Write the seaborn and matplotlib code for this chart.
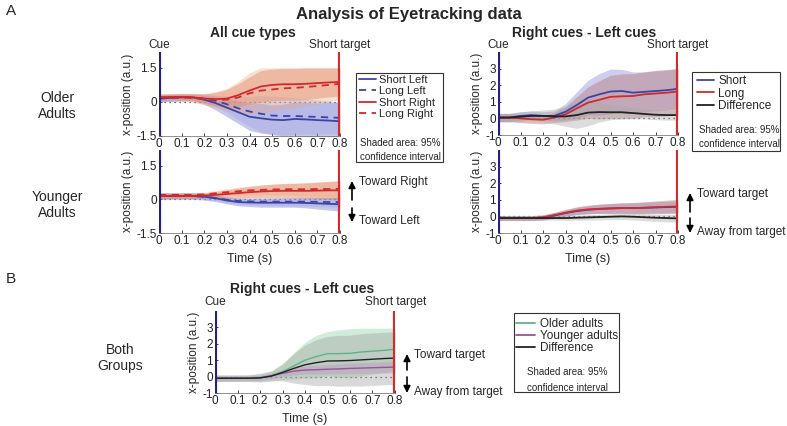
import numpy as np
import pandas as pd
import seaborn as sns
import matplotlib
matplotlib.use("Agg")
import matplotlib.pyplot as plt
from matplotlib.patches import Rectangle, FancyArrowPatch
from matplotlib.lines import Line2D

# ---------------- data ----------------
time = [0.0, 0.05, 0.1, 0.15, 0.2, 0.25, 0.3, 0.35, 0.4, 0.45, 0.5, 0.55, 0.6, 0.65, 0.7, 0.75, 0.8]
x_ticks = [0, 0.1, 0.2, 0.3, 0.4, 0.5, 0.6, 0.7, 0.8]
x_tick_labels = ["0", "0.1", "0.2", "0.3", "0.4", "0.5", "0.6", "0.7", "0.8"]
y_ticks_all = [-1.5, 0, 1.5]
y_ticks_diff = [-1, 0, 1, 2, 3]

# Older adults, all cue types
older_short_left = [0.15, 0.18, 0.2, 0.2, 0.1, -0.05, -0.25, -0.45, -0.65, -0.72, -0.78, -0.8, -0.75, -0.77, -0.8, -0.82, -0.85]
older_long_left = [0.15, 0.18, 0.2, 0.2, 0.15, 0.05, -0.1, -0.28, -0.42, -0.52, -0.6, -0.62, -0.62, -0.64, -0.66, -0.68, -0.7]
older_short_right = [0.2, 0.22, 0.22, 0.2, 0.15, 0.12, 0.15, 0.3, 0.5, 0.68, 0.75, 0.78, 0.78, 0.8, 0.83, 0.86, 0.88]
older_long_right = [0.2, 0.2, 0.2, 0.18, 0.12, 0.1, 0.1, 0.2, 0.38, 0.5, 0.55, 0.6, 0.62, 0.66, 0.7, 0.75, 0.8]
older_sl_ci = [0.15, 0.15, 0.15, 0.15, 0.2, 0.3, 0.4, 0.5, 0.6, 0.65, 0.65, 0.7, 0.75, 0.75, 0.75, 0.8, 0.85]
older_ll_ci = [0.15, 0.15, 0.15, 0.15, 0.2, 0.25, 0.35, 0.5, 0.65, 0.8, 0.85, 0.85, 0.8, 0.78, 0.75, 0.72, 0.7]
older_sr_ci = [0.15, 0.15, 0.15, 0.15, 0.2, 0.3, 0.4, 0.5, 0.6, 0.7, 0.7, 0.7, 0.7, 0.7, 0.67, 0.64, 0.62]
older_lr_ci = [0.15, 0.15, 0.18, 0.2, 0.25, 0.35, 0.5, 0.7, 0.9, 1.0, 0.95, 0.9, 0.88, 0.84, 0.8, 0.75, 0.7]

# Younger adults, all cue types
young_short_left = [0.15, 0.15, 0.15, 0.15, 0.12, 0.05, -0.05, -0.12, -0.14, -0.15, -0.15, -0.15, -0.15, -0.16, -0.18, -0.2, -0.22]
young_long_left = [0.15, 0.15, 0.15, 0.15, 0.12, 0.06, -0.02, -0.07, -0.09, -0.1, -0.1, -0.1, -0.1, -0.1, -0.11, -0.12, -0.12]
young_short_right = [0.15, 0.15, 0.15, 0.15, 0.17, 0.2, 0.24, 0.28, 0.32, 0.35, 0.37, 0.38, 0.38, 0.38, 0.39, 0.4, 0.4]
young_long_right = [0.2, 0.2, 0.2, 0.2, 0.22, 0.27, 0.32, 0.36, 0.4, 0.42, 0.44, 0.45, 0.45, 0.45, 0.46, 0.46, 0.47]
young_sl_ci = [0.15, 0.15, 0.15, 0.15, 0.15, 0.15, 0.15, 0.17, 0.18, 0.2, 0.2, 0.2, 0.2, 0.22, 0.25, 0.28, 0.3]
young_ll_ci = [0.12, 0.12, 0.12, 0.12, 0.12, 0.12, 0.13, 0.14, 0.15, 0.16, 0.17, 0.18, 0.19, 0.2, 0.21, 0.22, 0.23]
young_sr_ci = [0.12, 0.12, 0.12, 0.12, 0.12, 0.15, 0.18, 0.22, 0.25, 0.28, 0.3, 0.32, 0.33, 0.35, 0.37, 0.4, 0.42]
young_lr_ci = [0.1, 0.1, 0.1, 0.1, 0.1, 0.12, 0.15, 0.18, 0.2, 0.22, 0.24, 0.26, 0.28, 0.3, 0.32, 0.34, 0.36]

# Older adults, right cues - left cues
older_short = [0.05, 0.05, 0.15, 0.2, 0.15, 0.15, 0.4, 0.8, 1.25, 1.45, 1.62, 1.65, 1.55, 1.6, 1.65, 1.7, 1.78]
older_long = [0.05, 0.05, 0.0, -0.05, -0.08, 0.05, 0.25, 0.6, 0.95, 1.12, 1.3, 1.33, 1.35, 1.45, 1.5, 1.55, 1.62]
older_diff = [0.05, 0.05, 0.1, 0.15, 0.15, 0.12, 0.12, 0.2, 0.35, 0.38, 0.37, 0.37, 0.32, 0.27, 0.22, 0.2, 0.2]
older_short_ci = [0.25, 0.25, 0.25, 0.25, 0.25, 0.3, 0.5, 0.8, 1.05, 1.25, 1.35, 1.3, 1.25, 1.2, 1.2, 1.2, 1.2]
older_long_ci = [0.25, 0.25, 0.25, 0.25, 0.25, 0.3, 0.45, 0.7, 0.95, 1.15, 1.3, 1.35, 1.35, 1.35, 1.4, 1.4, 1.4]
older_diff_ci = [0.25, 0.25, 0.3, 0.3, 0.35, 0.45, 0.6, 0.8, 0.8, 0.6, 0.45, 0.4, 0.35, 0.3, 0.3, 0.3, 0.3]

# Younger adults, right cues - left cues
young_short = [-0.1, -0.1, -0.1, -0.1, -0.08, 0.05, 0.2, 0.32, 0.4, 0.45, 0.48, 0.5, 0.5, 0.52, 0.54, 0.56, 0.58]
young_long = [-0.1, -0.1, -0.1, -0.1, -0.05, 0.08, 0.22, 0.35, 0.42, 0.46, 0.48, 0.5, 0.5, 0.52, 0.55, 0.58, 0.6]
young_diff = [-0.1, -0.1, -0.1, -0.1, -0.1, -0.1, -0.1, -0.08, -0.06, -0.04, -0.02, 0.0, -0.02, -0.05, -0.08, -0.1, -0.12]
young_short_ci = [0.15, 0.15, 0.15, 0.15, 0.15, 0.17, 0.2, 0.22, 0.25, 0.27, 0.3, 0.3, 0.32, 0.33, 0.34, 0.35, 0.36]
young_long_ci = [0.15, 0.15, 0.15, 0.15, 0.15, 0.17, 0.2, 0.23, 0.26, 0.28, 0.3, 0.32, 0.34, 0.36, 0.38, 0.4, 0.42]
young_diff_ci = [0.12, 0.12, 0.12, 0.12, 0.12, 0.13, 0.14, 0.15, 0.16, 0.17, 0.18, 0.19, 0.2, 0.21, 0.22, 0.23, 0.24]

# Both groups, right cues - left cues
both_older = [-0.1, -0.1, -0.1, -0.08, -0.05, 0.05, 0.3, 0.65, 1.0, 1.22, 1.4, 1.4, 1.42, 1.5, 1.55, 1.6, 1.67]
both_younger = [-0.1, -0.1, -0.1, -0.1, -0.08, 0.05, 0.2, 0.33, 0.4, 0.42, 0.45, 0.47, 0.5, 0.52, 0.54, 0.56, 0.58]
both_diff = [-0.1, -0.1, -0.1, -0.1, -0.08, 0.03, 0.25, 0.5, 0.72, 0.85, 0.95, 0.96, 0.98, 1.02, 1.06, 1.1, 1.13]
both_older_ci = [0.2, 0.2, 0.2, 0.2, 0.25, 0.3, 0.5, 0.8, 1.1, 1.3, 1.35, 1.45, 1.5, 1.45, 1.4, 1.35, 1.3]
both_younger_ci = [0.15, 0.15, 0.15, 0.15, 0.15, 0.17, 0.2, 0.22, 0.25, 0.27, 0.3, 0.3, 0.32, 0.33, 0.34, 0.35, 0.36]
both_diff_ci = [0.2, 0.2, 0.2, 0.2, 0.25, 0.3, 0.5, 0.9, 1.2, 1.4, 1.5, 1.55, 1.55, 1.6, 1.6, 1.6, 1.6]

# ---------------- style ----------------
sns.set_theme(style="white")
plt.rcParams['font.family'] = ['Liberation Sans', 'DejaVu Sans']

W, H = 787, 426
fig = plt.figure(figsize=(W / 100, H / 100), dpi=100)

BLUE = "#3b44a6"
RED = "#d2292b"
CUE = "#23208a"
TARGET = "#d42a2a"
GREEN = "#5cb488"
PURPLE = "#a04fa0"
BLACK = "#222222"


def rect(x0, x1, ytop, ybot):
    return [x0 / W, 1 - ybot / H, (x1 - x0) / W, (ybot - ytop) / H]


def fx(x):
    return x / W


def fy(y):
    return 1 - y / H


def style_ax(ax, ylim, yticks, xlabel=True):
    ax.set_xlim(0, 0.8)
    ax.set_ylim(*ylim)
    ax.set_xticks(x_ticks)
    ax.set_xticklabels(x_tick_labels)
    ax.set_yticks(yticks)
    ax.set_yticklabels([("%g" % v) for v in yticks])
    for s in ["top", "right", "left"]:
        ax.spines[s].set_visible(False)
    ax.spines["bottom"].set_visible(True)
    ax.spines["bottom"].set_linewidth(0.5)
    ax.spines["bottom"].set_color("#666666")
    ax.tick_params(axis="both", direction="in", length=2.5, width=0.6, labelsize=8.5,
                   colors="#222222", pad=1.5, bottom=True, left=True)
    ax.axvline(0, color=CUE, lw=3, zorder=6)
    ax.axvline(0.8, color=TARGET, lw=3, zorder=6)
    ax.axhline(0, color="#333333", lw=0.9, ls=(0, (1, 3)), zorder=1)
    ax.set_facecolor("none")
    ax.set_ylabel("x-position (a.u.)", fontsize=8.5, labelpad=2)
    if xlabel:
        ax.set_xlabel("Time (s)", fontsize=9, labelpad=4)
    else:
        ax.set_xlabel("")


def band(ax, mean, ci, color, alpha):
    m = np.array(mean)
    c = np.array(ci)
    ax.fill_between(time, m - c, m + c, color=color, alpha=alpha, lw=0, zorder=2)


def line(ax, y, color, ls="-", lw=1.3):
    sns.lineplot(x=time, y=y, ax=ax, color=color, linestyle=ls, lw=lw, zorder=4, legend=False)


# ---- Panel A: older, all cue types
ax1 = fig.add_axes(rect(159, 340, 52, 136))
band(ax1, older_short_left, older_sl_ci, "#7f83d4", 0.45)
band(ax1, older_long_left, older_ll_ci, "#9ea2e0", 0.35)
band(ax1, older_short_right, older_sr_ci, "#e0805a", 0.45)
band(ax1, older_long_right, older_lr_ci, "#eba584", 0.35)
line(ax1, older_short_left, BLUE)
line(ax1, older_long_left, BLUE, (0, (4, 3)))
line(ax1, older_short_right, RED)
line(ax1, older_long_right, RED, (0, (4, 3)))
style_ax(ax1, (-1.5, 2.2), y_ticks_all, xlabel=False)

# ---- Panel A: younger, all cue types
ax2 = fig.add_axes(rect(159, 340, 150, 233))
band(ax2, young_short_left, young_sl_ci, "#7f83d4", 0.45)
band(ax2, young_long_left, young_ll_ci, "#9ea2e0", 0.35)
band(ax2, young_short_right, young_sr_ci, "#e0805a", 0.45)
band(ax2, young_long_right, young_lr_ci, "#eba584", 0.35)
line(ax2, young_short_left, BLUE)
line(ax2, young_long_left, BLUE, (0, (4, 3)))
line(ax2, young_short_right, RED)
line(ax2, young_long_right, RED, (0, (4, 3)))
style_ax(ax2, (-1.5, 2.2), y_ticks_all, xlabel=True)

# ---- Panel A: older, right - left
ax3 = fig.add_axes(rect(498, 678, 52, 135))
band(ax3, older_short, older_short_ci, "#9c9ee2", 0.5)
band(ax3, older_long, older_long_ci, "#b97a78", 0.45)
band(ax3, older_diff, older_diff_ci, "#a8a8a8", 0.4)
line(ax3, older_short, BLUE)
line(ax3, older_long, RED)
line(ax3, older_diff, BLACK)
style_ax(ax3, (-1, 4), y_ticks_diff, xlabel=False)

# ---- Panel A: younger, right - left
ax4 = fig.add_axes(rect(498, 678, 150, 233))
band(ax4, young_short, young_short_ci, "#9c9ee2", 0.5)
band(ax4, young_long, young_long_ci, "#b97a78", 0.45)
band(ax4, young_diff, young_diff_ci, "#a8a8a8", 0.4)
line(ax4, young_short, BLUE)
line(ax4, young_long, RED)
line(ax4, young_diff, BLACK)
style_ax(ax4, (-1, 4), y_ticks_diff, xlabel=True)

# ---- Panel B: both groups
ax5 = fig.add_axes(rect(215, 395, 311, 393))
band(ax5, both_older, both_older_ci, "#8fd0a4", 0.4)
band(ax5, both_diff, both_diff_ci, "#a0a0a0", 0.4)
band(ax5, both_younger, both_younger_ci, "#b88ab8", 0.35)
line(ax5, both_older, GREEN, lw=1.0)
line(ax5, both_younger, PURPLE, lw=1.0)
line(ax5, both_diff, BLACK, lw=1.0)
style_ax(ax5, (-1, 4), y_ticks_diff, xlabel=True)

# ---------------- texts ----------------
fig.text(fx(409), fy(14), "Analysis of Eyetracking data", ha="center", va="center",
         fontsize=12, fontweight="bold")
fig.text(fx(11), fy(11), "A", ha="center", va="center", fontsize=11)
fig.text(fx(11), fy(279), "B", ha="center", va="center", fontsize=11)

fig.text(fx(253), fy(33), "All cue types", ha="center", va="center", fontsize=10, fontweight="bold")
fig.text(fx(584), fy(33), "Right cues - Left cues", ha="center", va="center", fontsize=10, fontweight="bold")
fig.text(fx(302), fy(289), "Right cues - Left cues", ha="center", va="center", fontsize=10, fontweight="bold")

for xc, xt, yy in [(159, 340, 45), (498, 678, 45), (215, 396, 302)]:
    fig.text(fx(xc), fy(yy), "Cue", ha="center", va="center", fontsize=8.5)
    fig.text(fx(xt), fy(yy), "Short target", ha="center", va="center", fontsize=8.5)

fig.text(fx(57), fy(106), "Older\nAdults", ha="center", va="center", fontsize=10, linespacing=1.2)
fig.text(fx(57), fy(205), "Younger\nAdults", ha="center", va="center", fontsize=10, linespacing=1.2)
fig.text(fx(120), fy(358), "Both\nGroups", ha="center", va="center", fontsize=10, linespacing=1.2)


def arrows(x, y_up_from, y_up_to, y_dn_from, y_dn_to, t_up, t_dn, tx):
    for a, b in [(y_up_from, y_up_to), (y_dn_from, y_dn_to)]:
        fig.add_artist(FancyArrowPatch(
            (fx(x), fy(a)), (fx(x), fy(b)), transform=fig.transFigure,
            arrowstyle="-|>,head_length=0.5,head_width=0.25", mutation_scale=8,
            lw=1.2, color="black", shrinkA=0, shrinkB=0))
    fig.text(fx(tx), fy(y_up_to + 1), t_up, ha="left", va="center", fontsize=8.5)
    fig.text(fx(tx), fy(y_dn_to - 1), t_dn, ha="left", va="center", fontsize=8.5)


arrows(352, 200, 181, 208, 222, "Toward Right", "Toward Left", 359)
arrows(690, 212, 193, 218, 233, "Toward target", "Away from target", 697)
arrows(407, 370, 354, 377, 393, "Toward target", "Away from target", 414)


# ---------------- legend boxes ----------------
def box(x0, x1, y0, y1):
    fig.add_artist(Rectangle((fx(x0), fy(y1)), (x1 - x0) / W, (y1 - y0) / H,
                             transform=fig.transFigure, fill=False, lw=0.8, ec="#333333"))


box(356, 443, 73, 162)
h1 = [Line2D([], [], color=BLUE, lw=1.3), Line2D([], [], color=BLUE, lw=1.3, ls=(0, (4, 3))),
      Line2D([], [], color=RED, lw=1.3), Line2D([], [], color=RED, lw=1.3, ls=(0, (4, 3)))]
fig.legend(h1, ["Short Left", "Long Left", "Short Right", "Long Right"], loc="upper left",
           bbox_to_anchor=(fx(359), fy(75)), frameon=False, fontsize=8, handlelength=1.5,
           handletextpad=0.3, labelspacing=0.12, borderaxespad=0, borderpad=0)
fig.text(fx(360), fy(143), "Shaded area: 95%", ha="left", va="center", fontsize=7)
fig.text(fx(360), fy(157), "confidence interval", ha="left", va="center", fontsize=7)

box(692, 780, 72, 151)
h2 = [Line2D([], [], color=BLUE, lw=1.3), Line2D([], [], color=RED, lw=1.3),
      Line2D([], [], color=BLACK, lw=1.3)]
fig.legend(h2, ["Short", "Long", "Difference"], loc="upper left",
           bbox_to_anchor=(fx(697), fy(75)), frameon=False, fontsize=8.5, handlelength=1.4,
           handletextpad=0.4, labelspacing=0.05, borderaxespad=0, borderpad=0)
fig.text(fx(699), fy(130), "Shaded area: 95%", ha="left", va="center", fontsize=7)
fig.text(fx(699), fy(144), "confidence interval", ha="left", va="center", fontsize=7)

box(514, 619, 313, 392)
h3 = [Line2D([], [], color=GREEN, lw=1.3), Line2D([], [], color=PURPLE, lw=1.3),
      Line2D([], [], color=BLACK, lw=1.3)]
fig.legend(h3, ["Older adults", "Younger adults", "Difference"], loc="upper left",
           bbox_to_anchor=(fx(516), fy(318)), frameon=False, fontsize=8.5, handlelength=1.6,
           handletextpad=0.4, labelspacing=0.0, borderaxespad=0, borderpad=0)
fig.text(fx(567), fy(372), "Shaded area: 95%", ha="center", va="center", fontsize=7)
fig.text(fx(567), fy(388), "confidence interval", ha="center", va="center", fontsize=7)

fig.savefig("out.png", dpi=100)
